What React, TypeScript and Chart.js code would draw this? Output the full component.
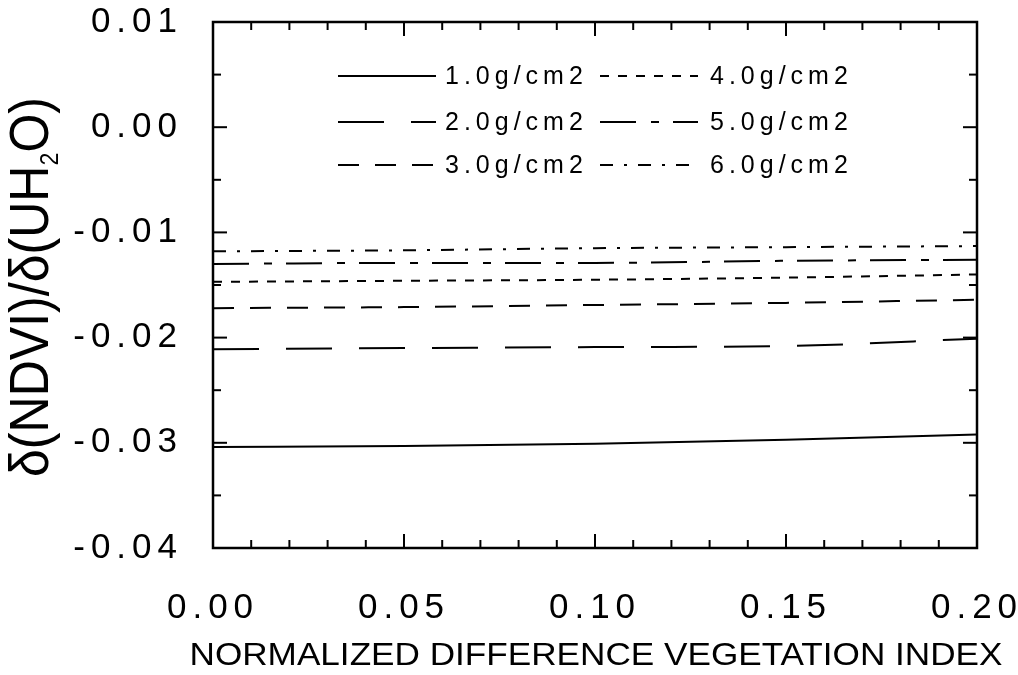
import React, { useEffect, useRef } from "react";
import { Chart, registerables } from "chart.js";

Chart.register(...registerables);

// ---- data ----
const ndvi = [0, 0.05, 0.1, 0.15, 0.2];
const wv1 = [-0.0304, -0.0303, -0.0301, -0.0297, -0.0292];
const wv2 = [-0.0211, -0.021, -0.0209, -0.0208, -0.0201];
const wv3 = [-0.0172, -0.0171, -0.0169, -0.0167, -0.0164];
const wv4 = [-0.0147, -0.0146, -0.0145, -0.0143, -0.014];
const wv5 = [-0.013, -0.0129, -0.0129, -0.0127, -0.0126];
const wv6 = [-0.0118, -0.0117, -0.0115, -0.0114, -0.0113];
const seriesLabels = ["1.0g/cm2", "2.0g/cm2", "3.0g/cm2", "4.0g/cm2", "5.0g/cm2", "6.0g/cm2"];
const seriesValues = [wv1, wv2, wv3, wv4, wv5, wv6];
const seriesDash = [[], [46, 27], [21, 16], [9, 9], [36, 15, 8, 14], [13, 11, 3, 11]];

const xTickValues = [0, 0.05, 0.1, 0.15, 0.2];
const xTickLabels = ["0.00", "0.05", "0.10", "0.15", "0.20"];
const yTickValues = [-0.04, -0.03, -0.02, -0.01, 0, 0.01];
const yTickLabels = ["-0.04", "-0.03", "-0.02", "-0.01", "0.00", "0.01"];

const xTitle = "NORMALIZED DIFFERENCE VEGETATION INDEX";
const yTitleMain = "δ(NDVI)/δ(UH";
const yTitleSub = "2";
const yTitleEnd = "O)";

const FONT = "'Liberation Sans', Arial, Helvetica, sans-serif";

function drawScaled(ctx: CanvasRenderingContext2D, text: string, cx: number, baseline: number, size: number, width: number) {
  ctx.save();
  ctx.font = `${size}px ${FONT}`;
  const w = ctx.measureText(text).width;
  const s = width / w;
  ctx.translate(cx, baseline);
  ctx.scale(s, 1);
  ctx.textAlign = "left";
  ctx.textBaseline = "alphabetic";
  ctx.fillText(text, -w / 2, 0);
  ctx.restore();
}

const framePlugin = {
  id: "framePlugin",
  beforeDraw(chart: any) {
    const ctx = chart.ctx as any;
    ctx.letterSpacing = "6px";
  },
  afterDraw(chart: any) {
    const ctx = chart.ctx as CanvasRenderingContext2D & { letterSpacing: string };
    const { left, right, top, bottom } = chart.chartArea;
    const xs = chart.scales.x;
    const ys = chart.scales.y;
    ctx.save();
    ctx.letterSpacing = "0px";
    ctx.strokeStyle = "#000";
    ctx.fillStyle = "#000";
    ctx.setLineDash([]);
    ctx.lineWidth = 2.5;
    ctx.strokeRect(left, top, right - left, bottom - top);
    ctx.lineWidth = 2;
    const seg = (x1: number, y1: number, x2: number, y2: number) => {
      ctx.beginPath();
      ctx.moveTo(x1, y1);
      ctx.lineTo(x2, y2);
      ctx.stroke();
    };
    for (let i = 0; i <= 20; i++) {
      const px = xs.getPixelForValue(i * 0.01);
      const len = i % 5 === 0 ? 14 : 8;
      seg(px, bottom, px, bottom - len);
      seg(px, top, px, top + len);
    }
    for (let i = 0; i <= 10; i++) {
      const py = ys.getPixelForValue(-0.04 + i * 0.005);
      const len = i % 2 === 0 ? 14 : 8;
      seg(left, py, left + len, py);
      seg(right, py, right - len, py);
    }

    // legend
    const colLine = [338, 600];
    const colText = [445, 710];
    const rows = [76, 122, 165];
    const lineLen = 98;
    ctx.font = `25px ${FONT}`;
    ctx.letterSpacing = "5px";
    ctx.textBaseline = "middle";
    ctx.textAlign = "left";
    seriesLabels.forEach((lab, i) => {
      const col = Math.floor(i / 3);
      const row = i % 3;
      const y = rows[row];
      ctx.setLineDash(seriesDash[i]);
      ctx.lineWidth = 2;
      seg(colLine[col], y, colLine[col] + lineLen, y);
      ctx.setLineDash([]);
      ctx.fillText(lab, colText[col], y + 1);
    });
    ctx.letterSpacing = "0px";

    // x title
    drawScaled(ctx, xTitle, 596, 665, 32, 813);

    // y title (rotated)
    const F = 56;
    const subF = 26;
    ctx.save();
    ctx.font = `${F}px ${FONT}`;
    const w1 = ctx.measureText(yTitleMain).width;
    const w3 = ctx.measureText(yTitleEnd).width;
    ctx.font = `${subF}px ${FONT}`;
    const w2 = ctx.measureText(yTitleSub).width;
    const W = w1 + w2 + w3;
    const targetLen = 380;
    const s = targetLen / W;
    ctx.translate(27, 287);
    ctx.rotate(-Math.PI / 2);
    ctx.scale(s, 1);
    ctx.textAlign = "left";
    ctx.textBaseline = "alphabetic";
    const base = 21;
    let cur = -W / 2;
    ctx.font = `${F}px ${FONT}`;
    ctx.fillText(yTitleMain, cur, base);
    cur += w1;
    ctx.font = `${subF}px ${FONT}`;
    ctx.fillText(yTitleSub, cur, base + 10);
    cur += w2;
    ctx.font = `${F}px ${FONT}`;
    ctx.fillText(yTitleEnd, cur, base);
    ctx.restore();

    ctx.restore();
  },
};

export default function App() {
  const ref = useRef<HTMLCanvasElement | null>(null);
  useEffect(() => {
    if (!ref.current) return;
    const datasets = seriesValues.map((vals, i) => ({
      label: seriesLabels[i],
      data: vals.map((v, j) => ({ x: ndvi[j], y: v })),
      borderColor: "#000",
      backgroundColor: "#000",
      borderWidth: 2,
      borderDash: seriesDash[i],
      pointRadius: 0,
      fill: false,
      cubicInterpolationMode: "monotone" as const,
    }));
    const chart = new Chart(ref.current, {
      type: "line",
      data: { datasets },
      options: {
        animation: false,
        responsive: true,
        maintainAspectRatio: false,
        layout: { padding: { top: 22, right: 41, left: 0, bottom: 0 } },
        plugins: { legend: { display: false }, tooltip: { enabled: false } },
        scales: {
          x: {
            type: "linear",
            min: 0,
            max: 0.2,
            afterBuildTicks: (sc: any) => {
              sc.ticks = xTickValues.map((v) => ({ value: v }));
            },
            afterFit: (sc: any) => {
              sc.height = 127;
              sc.paddingLeft = 0;
              sc.paddingRight = 0;
            },
            ticks: {
              autoSkip: false,
              maxRotation: 0,
              padding: 39,
              color: "#000",
              font: { family: FONT, size: 35 },
              callback: (v: any) => {
                const idx = xTickValues.findIndex((t) => Math.abs(t - Number(v)) < 1e-9);
                return idx >= 0 ? xTickLabels[idx] : "";
              },
            },
            grid: { display: false, drawTicks: false },
            border: { display: false },
          },
          y: {
            type: "linear",
            min: -0.04,
            max: 0.01,
            afterBuildTicks: (sc: any) => {
              sc.ticks = yTickValues.map((v) => ({ value: v }));
            },
            afterFit: (sc: any) => {
              sc.width = 213;
              sc.paddingTop = 0;
              sc.paddingBottom = 0;
            },
            ticks: {
              autoSkip: false,
              padding: 30,
              color: "#000",
              font: { family: FONT, size: 35 },
              callback: (v: any) => {
                const idx = yTickValues.findIndex((t) => Math.abs(t - Number(v)) < 1e-9);
                return idx >= 0 ? yTickLabels[idx] : "";
              },
            },
            grid: { display: false, drawTicks: false },
            border: { display: false },
          },
        },
      },
      plugins: [framePlugin],
    });
    return () => chart.destroy();
  }, []);
  return (
    <div style={{ position: "fixed", left: 0, top: 0, width: 1018, height: 675, background: "#fff" }}>
      <canvas ref={ref} />
    </div>
  );
}
